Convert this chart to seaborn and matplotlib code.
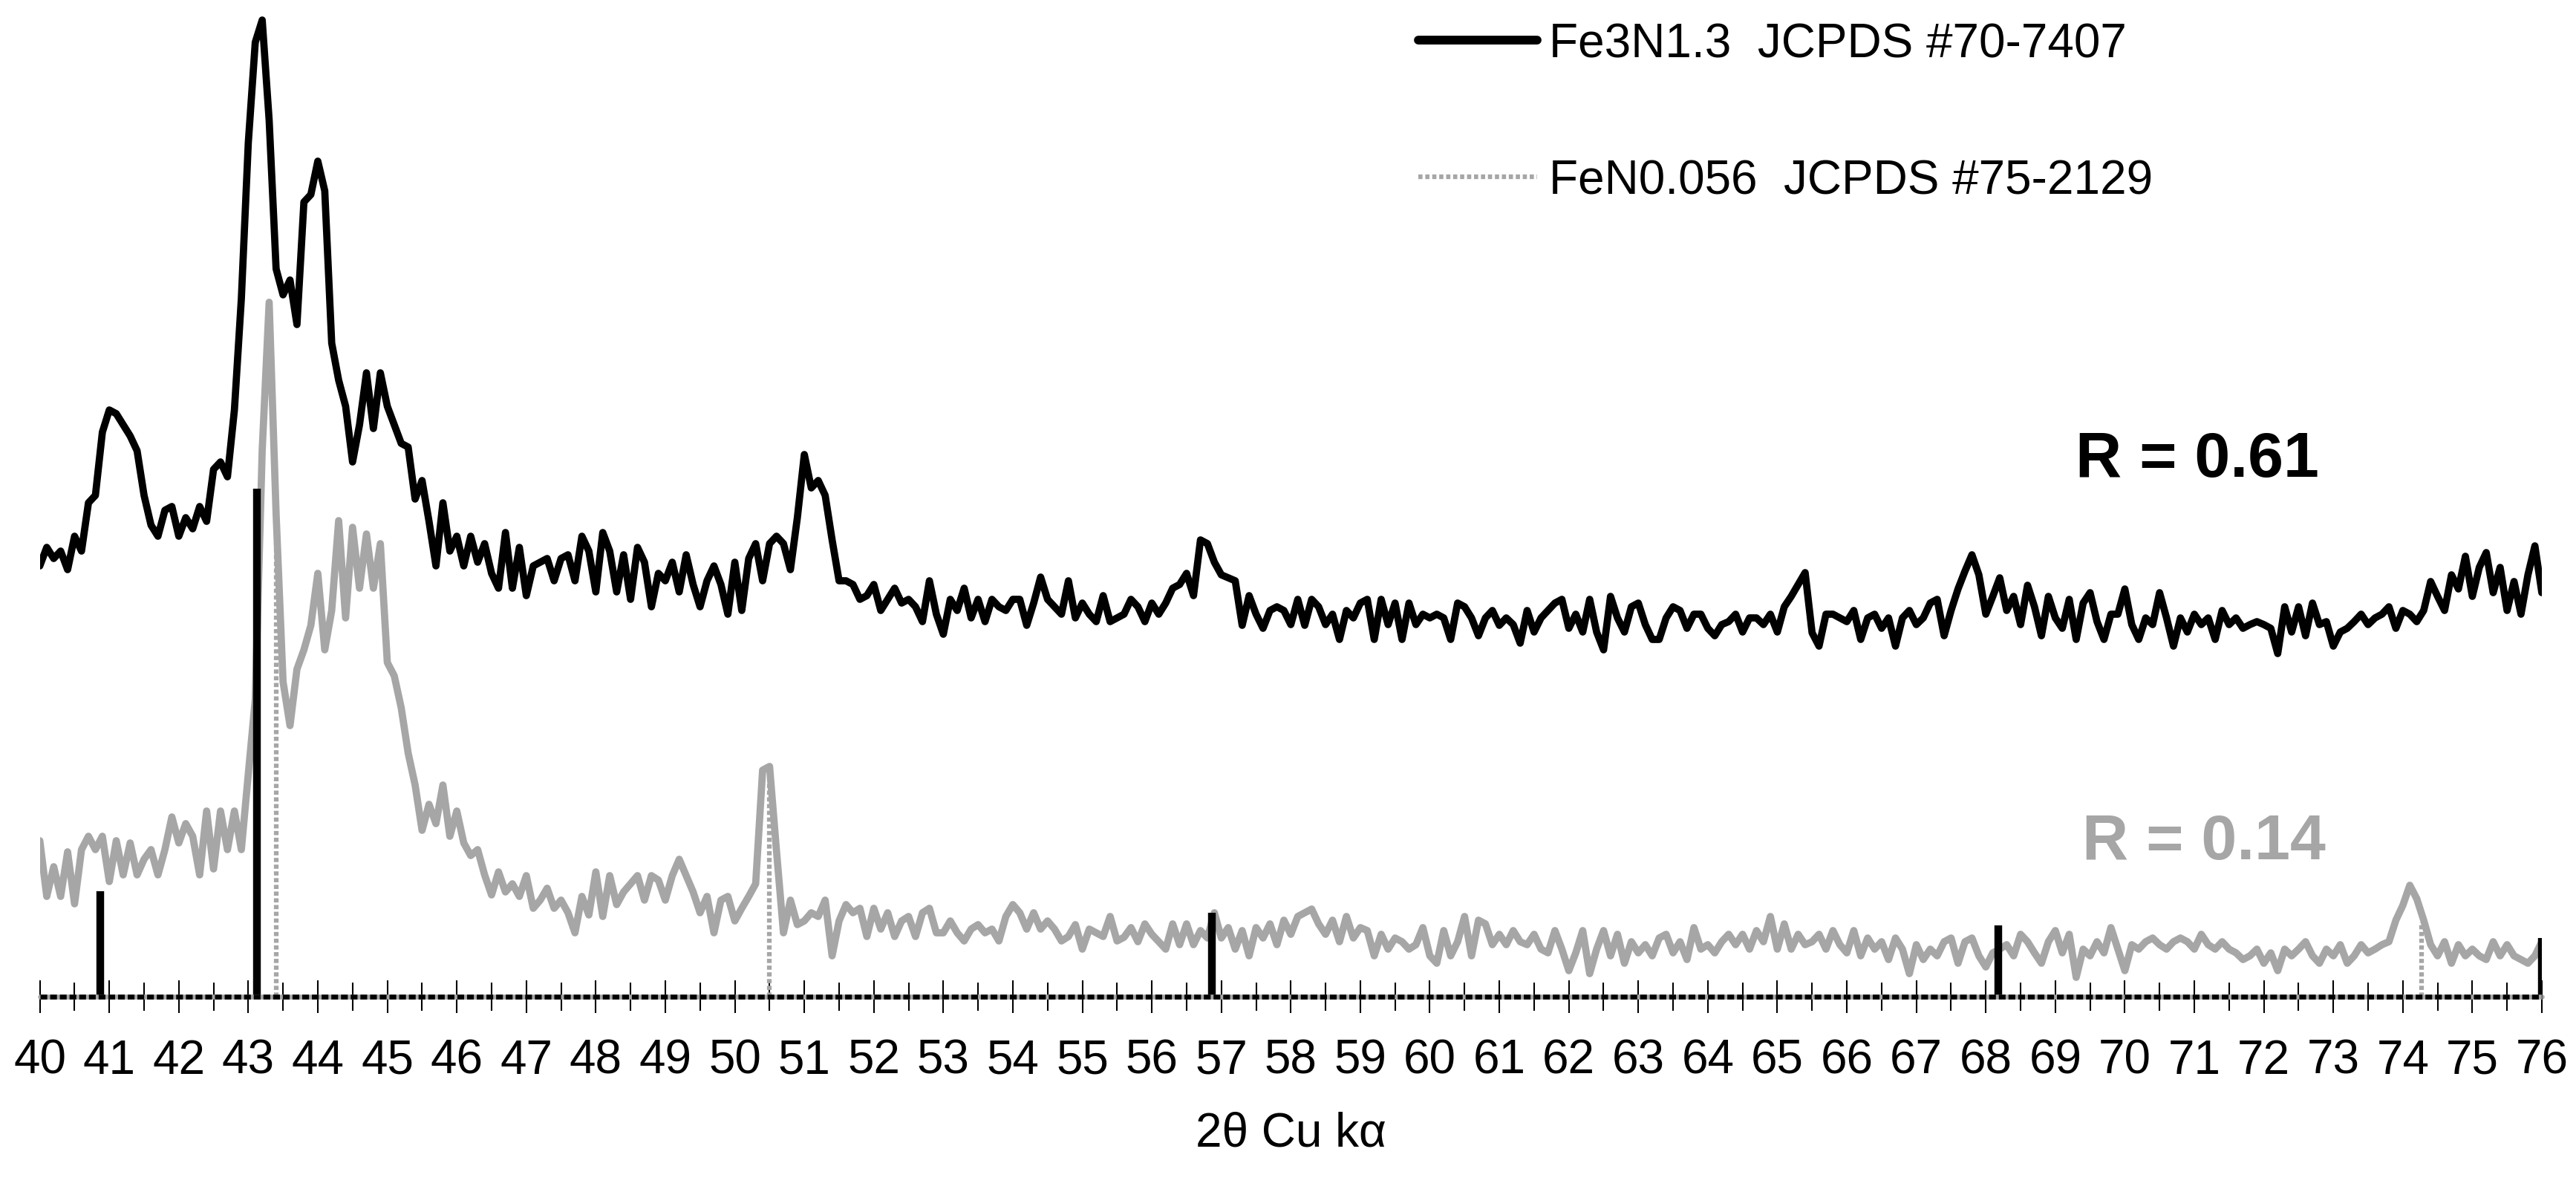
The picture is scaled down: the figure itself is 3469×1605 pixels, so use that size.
import numpy as np
import pandas as pd
import matplotlib
matplotlib.use("Agg")
import matplotlib.pyplot as plt
import seaborn as sns
from matplotlib.lines import Line2D
from matplotlib.ticker import MultipleLocator

# ---------------- data ----------------
TWO_THETA_START = 40.0
TWO_THETA_STOP = 76.0
TWO_THETA_STEP = 0.1

# sample with R = 0.61 (black trace), one value per 0.1 deg from 40.0 to 76.0
r061_intensity = [
    58.0, 60.5, 59.0, 60.0, 57.5, 62.0, 60.0, 66.5, 67.5, 76.0,      # 40
    79.0, 78.5, 77.0, 75.5, 73.5, 67.5, 63.5, 62.0, 65.5, 66.0,      # 41
    62.0, 64.5, 63.0, 66.0, 64.0, 71.0, 72.0, 70.0, 79.0, 94.0,      # 42
    115.0, 128.5, 131.5, 118.0, 98.0, 94.5, 96.5, 90.5, 107.0, 108.0,  # 43
    112.5, 108.5, 88.0, 83.0, 79.5, 72.0, 77.0, 84.0, 76.5, 84.0,    # 44
    79.5, 77.0, 74.5, 74.0, 67.0, 69.5, 64.0, 58.0, 66.5, 60.0,      # 45
    62.0, 58.0, 62.0, 58.5, 61.0, 57.0, 55.0, 62.5, 55.0, 60.5,      # 46
    54.0, 58.0, 58.5, 59.0, 56.0, 59.0, 59.5, 56.0, 62.0, 60.0,      # 47
    54.5, 62.5, 60.0, 54.5, 59.5, 53.5, 60.5, 58.5, 52.5, 57.0,      # 48
    56.0, 58.5, 54.5, 59.5, 55.5, 52.5, 56.0, 58.0, 55.5, 51.5,      # 49
    58.5, 52.0, 59.0, 61.0, 56.0, 61.0, 62.0, 61.0, 57.5, 64.5,      # 50
    73.0, 68.5, 69.5, 67.5, 61.5, 56.0, 56.0, 55.5, 53.5, 54.0,      # 51
    55.5, 52.0, 53.5, 55.0, 53.0, 53.5, 52.5, 50.5, 56.0, 51.5,      # 52
    48.8, 53.5, 52.0, 55.0, 51.0, 53.5, 50.5, 53.5, 52.5, 52.0,      # 53
    53.5, 53.5, 50.0, 53.0, 56.5, 53.5, 52.5, 51.5, 56.0, 51.0,      # 54
    53.0, 51.5, 50.5, 54.0, 50.5, 51.0, 51.5, 53.5, 52.5, 50.5,      # 55
    53.0, 51.5, 53.0, 55.0, 55.5, 57.0, 54.0, 61.5, 61.0, 58.5,      # 56
    56.8, 56.4, 56.0, 50.0, 54.0, 51.5, 49.6, 52.0, 52.5, 52.0,      # 57
    50.1, 53.5, 50.0, 53.5, 52.5, 50.1, 51.5, 48.1, 52.0, 51.0,      # 58
    53.0, 53.5, 48.1, 53.5, 50.1, 53.0, 48.1, 53.0, 50.1, 51.5,      # 59
    51.0, 51.5, 51.0, 48.1, 53.0, 52.5, 51.0, 48.6, 51.0, 52.0,      # 60
    50.0, 51.0, 50.1, 47.6, 52.0, 49.1, 51.0, 52.0, 53.0, 53.5,      # 61
    49.6, 51.5, 49.1, 53.5, 49.1, 46.7, 53.9, 51.0, 49.1, 52.5,      # 62
    53.0, 50.1, 48.1, 48.1, 51.0, 52.5, 52.0, 49.6, 51.5, 51.5,      # 63
    49.6, 48.6, 50.1, 50.5, 51.5, 49.1, 51.0, 51.0, 50.1, 51.5,      # 64
    49.1, 52.5, 53.9, 55.5, 57.1, 49.0, 47.2, 51.5, 51.5, 51.0,      # 65
    50.5, 52.0, 48.1, 51.0, 51.5, 49.6, 51.0, 47.2, 51.0, 52.0,      # 66
    50.1, 51.0, 53.0, 53.5, 48.6, 52.0, 54.9, 57.3, 59.5, 56.8,      # 67
    51.5, 53.9, 56.4, 52.0, 53.9, 50.1, 55.4, 52.5, 48.6, 53.9,      # 68
    51.0, 49.6, 53.5, 48.1, 53.0, 54.4, 50.5, 48.1, 51.5, 51.5,      # 69
    54.9, 50.1, 48.1, 51.0, 50.1, 54.4, 51.0, 47.2, 51.0, 49.1,      # 70
    51.5, 50.1, 51.0, 48.1, 52.0, 50.1, 51.0, 49.6, 50.1, 50.5,      # 71
    50.1, 49.6, 46.2, 52.5, 49.1, 52.5, 48.6, 53.0, 50.1, 50.5,      # 72
    47.2, 49.1, 49.6, 50.5, 51.5, 50.1, 51.0, 51.5, 52.5, 49.6,      # 73
    52.0, 51.5, 50.5, 52.0, 55.9, 53.9, 52.0, 56.8, 54.9, 59.3,      # 74
    53.9, 57.8, 59.8, 54.4, 57.8, 52.0, 55.9, 51.5, 56.8, 60.7,      # 75
    54.4,                                                            # 76
]

# sample with R = 0.14 (grey trace)
r014_intensity = [
    21.0, 13.5, 17.5, 13.5, 19.5, 12.5, 19.8, 21.6, 19.8, 21.6,      # 40
    15.5, 21.0, 16.4, 20.7, 16.4, 18.5, 19.8, 16.4, 19.8, 24.2,      # 41
    20.7, 23.3, 21.6, 16.4, 25.0, 17.2, 25.0, 19.8, 25.0, 19.8,      # 42
    30.0, 40.0, 73.6, 93.5, 65.0, 42.4, 36.5, 44.1, 46.7, 50.0,      # 43
    57.0, 46.7, 52.0, 64.1, 51.0, 63.2, 55.0, 62.3, 55.0, 61.0,      # 44
    45.0, 43.2, 38.9, 32.8, 28.5, 22.4, 25.9, 23.3, 28.5, 21.6,      # 45
    25.0, 20.7, 19.0, 19.8, 16.4, 13.7, 16.8, 14.1, 15.2, 13.5,      # 46
    16.3, 11.9, 13.0, 14.6, 11.9, 13.0, 11.3, 8.6, 13.5, 11.0,       # 47
    16.8, 10.8, 16.3, 12.4, 14.1, 15.2, 16.3, 13.0, 16.3, 15.7,      # 48
    13.0, 16.3, 18.5, 16.3, 14.1, 11.3, 13.5, 8.6, 13.0, 13.5,       # 49
    10.2, 11.9, 13.5, 15.2, 30.5, 31.0, 19.6, 8.6, 13.0, 9.7,        # 50
    10.2, 11.3, 10.8, 13.0, 5.5, 10.2, 12.4, 11.3, 11.9, 8.1,        # 51
    11.9, 9.1, 11.3, 8.1, 10.2, 10.8, 8.1, 11.3, 11.9, 8.6,          # 52
    8.6, 10.2, 8.6, 7.5, 9.1, 9.7, 8.6, 9.1, 7.5, 10.8,              # 53
    12.4, 11.3, 9.1, 11.3, 9.1, 10.2, 9.1, 7.5, 8.1, 9.7,            # 54
    6.4, 9.1, 8.6, 8.1, 10.8, 7.5, 8.0, 9.3, 7.4, 9.8,               # 55
    8.4, 7.4, 6.4, 9.8, 7.0, 9.8, 7.0, 8.9, 7.9, 11.3,               # 56
    7.9, 9.3, 6.4, 8.9, 5.5, 9.3, 7.9, 9.8, 7.0, 10.3,               # 57
    8.4, 10.8, 11.3, 11.8, 9.8, 8.4, 10.3, 7.4, 10.8, 7.9,           # 58
    9.3, 8.9, 5.5, 8.4, 6.4, 7.9, 7.4, 6.4, 7.0, 9.3,                # 59
    5.5, 4.5, 8.9, 5.5, 7.4, 10.8, 5.5, 10.3, 9.8, 7.0,              # 60
    8.4, 7.0, 8.9, 7.4, 7.0, 8.4, 6.4, 5.9, 8.9, 6.4,                # 61
    3.5, 5.9, 8.9, 3.1, 6.4, 8.9, 5.5, 8.4, 4.5, 7.4,                # 62
    5.9, 7.0, 5.5, 7.9, 8.4, 5.9, 7.4, 5.0, 9.3, 6.4,                # 63
    7.0, 5.9, 7.4, 8.4, 7.0, 8.4, 6.4, 8.9, 7.4, 10.8,               # 64
    6.4, 9.8, 6.4, 8.4, 7.0, 7.4, 8.4, 6.4, 8.9, 7.0,                # 65
    5.9, 8.9, 5.5, 7.9, 6.4, 7.4, 5.0, 7.9, 6.4, 3.1,                # 66
    7.0, 5.0, 6.4, 5.5, 7.4, 7.9, 4.5, 7.4, 7.9, 5.5,                # 67
    4.0, 5.9, 6.4, 7.0, 5.5, 8.4, 7.4, 5.9, 4.5, 7.4,                # 68
    8.9, 5.9, 8.4, 2.6, 6.4, 5.5, 7.4, 5.9, 9.3, 6.4,                # 69
    3.5, 7.0, 6.4, 7.4, 7.9, 7.0, 6.4, 7.4, 7.9, 7.4,                # 70
    6.4, 8.4, 7.0, 6.4, 7.4, 6.4, 5.9, 5.0, 5.5, 6.4,                # 71
    4.5, 5.9, 3.5, 6.4, 5.5, 6.4, 7.4, 5.5, 4.5, 6.4,                # 72
    5.5, 7.0, 4.5, 5.5, 7.0, 5.9, 6.4, 7.0, 7.4, 10.3,               # 73
    12.3, 15.0, 13.2, 10.3, 7.0, 5.5, 7.4, 4.5, 7.0, 5.5,            # 74
    6.4, 5.5, 5.0, 7.4, 5.5, 7.0, 5.5, 5.0, 4.5, 5.5,                # 75
    7.4,                                                             # 76
]

# reference patterns (stick positions and heights)
fe3n_label = "Fe3N1.3  JCPDS #70-7407"
fe3n_positions = [40.87, 43.12, 56.86, 68.18, 76.0]
fe3n_heights = [14.2, 68.4, 11.3, 9.6, 7.9]

fen_label = "FeN0.056  JCPDS #75-2129"
fen_positions = [43.40, 50.50, 74.27]
fen_heights = [65.0, 30.0, 10.0]

sample_labels = ["R = 0.14", "R = 0.61"]
x_ticks = list(range(40, 77))
x_label = "2\u03b8 Cu k\u03b1"

# ---------------- styling ----------------
BLACK = "#000000"
GREY = "#a6a6a6"

sns.set_theme(style="white")
plt.rcParams["font.family"] = ["Liberation Sans Narrow", "Liberation Sans", "DejaVu Sans"]

W, H = 3469, 1606
fig = plt.figure(figsize=(W / 100, H / 100), dpi=100)
x0, x1 = 53.6, 3423.0
y_axis_px = 1343.0
ax = fig.add_axes([x0 / W, (H - y_axis_px) / H, (x1 - x0) / W, y_axis_px / H])

two_theta = np.round(np.arange(TWO_THETA_START, TWO_THETA_STOP + TWO_THETA_STEP / 2, TWO_THETA_STEP), 1)
df = pd.concat([
    pd.DataFrame({"two_theta": two_theta, "intensity": r014_intensity, "sample": sample_labels[0]}),
    pd.DataFrame({"two_theta": two_theta, "intensity": r061_intensity, "sample": sample_labels[1]}),
])

sns.lineplot(data=df, x="two_theta", y="intensity", hue="sample",
             hue_order=sample_labels, palette={sample_labels[0]: GREY, sample_labels[1]: BLACK},
             linewidth=7.0, estimator=None, sort=False, legend=False, ax=ax, zorder=2,
             solid_joinstyle="round", solid_capstyle="round")

# reference sticks
ax.vlines(fen_positions, 0, fen_heights, colors=GREY, linewidth=4.5,
          linestyles=[(0, (0.9, 0.55))], zorder=1.5)
ax.vlines(fe3n_positions, 0, fe3n_heights, colors=BLACK, linewidth=7.5, zorder=3)

# axis line: grey base with black dashes on top
ax.axhline(0, color=GREY, linewidth=4.7, zorder=4, clip_on=False)
ax.axhline(0, color=BLACK, linewidth=4.7, dashes=(1.4, 0.6), zorder=5, clip_on=False)

ax.set_xlim(TWO_THETA_START, TWO_THETA_STOP)
ax.set_ylim(0, 134.3)
for s in ax.spines.values():
    s.set_visible(False)
ax.set_yticks([])
ax.xaxis.set_major_locator(MultipleLocator(1))
ax.xaxis.set_minor_locator(MultipleLocator(0.5))
ax.set_xticks(x_ticks)
ax.set_xticklabels([str(t) for t in x_ticks])
ax.tick_params(axis="x", which="major", bottom=True, direction="inout", length=32,
               width=1.5, color=BLACK, labelsize=46, labelcolor=BLACK, pad=24)
ax.tick_params(axis="x", which="minor", bottom=True, direction="inout", length=28,
               width=1.5, color=BLACK)
ax.set_xlabel(x_label, fontsize=46, labelpad=27, color=BLACK,
              family=["Liberation Sans", "DejaVu Sans"])
ax.set_ylabel("")

# sample annotations
ax.text(69.29, 70.1, sample_labels[1], fontsize=62, fontweight="bold", color=BLACK,
        ha="left", va="baseline", family=["Liberation Sans", "DejaVu Sans"])
ax.text(69.39, 18.6, sample_labels[0], fontsize=62, fontweight="bold", color=GREY,
        ha="left", va="baseline", family=["Liberation Sans", "DejaVu Sans"])

# legend for the reference patterns
handles = [
    Line2D([0], [0], color=BLACK, linewidth=8.5),
    Line2D([0], [0], color=GREY, linewidth=4.5, linestyle=(0, (0.9, 0.6))),
]
leg = ax.legend(handles, [fe3n_label, fen_label], loc="upper left",
                bbox_to_anchor=(1910 / W, 1 - 30 / H), bbox_transform=fig.transFigure,
                frameon=False, borderpad=0, borderaxespad=0, handlelength=2.5,
                handletextpad=0.25, labelspacing=1.95,
                prop={"family": ["Liberation Sans", "DejaVu Sans"], "size": 46})
for t in leg.get_texts():
    t.set_color(BLACK)

fig.savefig("out.png", dpi=100, facecolor="white")
